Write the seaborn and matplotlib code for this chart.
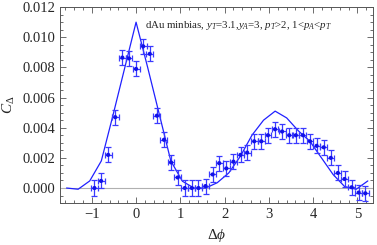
import matplotlib
matplotlib.use("Agg")
import matplotlib.pyplot as plt
import numpy as np
import seaborn as sns
import pandas as pd
from matplotlib.ticker import MultipleLocator

# data points
dphi = [-0.94, -0.79, -0.63, -0.47, -0.31, -0.16, 0.0, 0.16, 0.31, 0.47,
        0.63, 0.79, 0.94, 1.10, 1.26, 1.41, 1.57, 1.73, 1.88, 2.04,
        2.20, 2.36, 2.51, 2.67, 2.83, 2.98, 3.14, 3.30, 3.46, 3.61,
        3.77, 3.93, 4.08, 4.24, 4.40, 4.56, 4.71, 4.87, 5.03, 5.18]
c_delta = [0.0000, 0.00047, 0.0022, 0.0047, 0.00865, 0.0086, 0.0079, 0.0094, 0.0089, 0.0048,
           0.0032, 0.0017, 0.0007, 0.0000, 0.0000, 0.0000, 0.00013, 0.0009, 0.00165, 0.0013,
           0.00175, 0.0022, 0.00235, 0.0031, 0.0031, 0.0035, 0.0039, 0.00375, 0.0035, 0.0035,
           0.0035, 0.0031, 0.0028, 0.0027, 0.0020, 0.0010, 0.0006, 0.00005, -0.0003, -0.00035]
y_err = 0.0005
x_err = 0.078

# model curve
curve_x = [-1.571, -1.309, -1.047, -0.785, -0.524, -0.262, 0.0, 0.262, 0.524, 0.785,
           1.047, 1.309, 1.571, 1.833, 2.094, 2.356, 2.618, 2.880, 3.142, 3.403,
           3.665, 3.927, 4.189, 4.451, 4.712, 4.974, 5.236]
curve_y = [0.0000, -0.00008, 0.00047, 0.0018, 0.0048, 0.0079, 0.0110, 0.0080, 0.0049, 0.0018,
           0.00045, 0.0000, 0.0000, 0.00035, 0.0010, 0.0021, 0.0035, 0.0045, 0.0051, 0.00465,
           0.0038, 0.0031, 0.0020, 0.0009, 0.0001, -0.00008, 0.00047]

label_text = r"dAu minbias, $y_T$=3.1,$y_A$=3, $p_T$>2, 1<$p_A$<$p_T$"

sns.set_theme(style="ticks")
plt.rcParams["font.family"] = ["Liberation Serif", "DejaVu Serif"]
plt.rcParams["mathtext.fontset"] = "custom"
plt.rcParams["mathtext.rm"] = "Liberation Serif"
plt.rcParams["mathtext.it"] = "Liberation Serif:italic"

fig = plt.figure(figsize=(3.77, 2.45), dpi=100)
ax = fig.add_axes([0.159, 0.171, 0.830, 0.800])

blue = "#2020ff"
ax.axhline(0, color="#b0b0b0", linewidth=0.8, zorder=1)

df_curve = pd.DataFrame({"x": curve_x, "y": curve_y})
sns.lineplot(data=df_curve, x="x", y="y", ax=ax, color=blue, linewidth=0.9,
             sort=False, zorder=3)

ax.errorbar(dphi, c_delta, yerr=y_err, xerr=x_err, fmt="none", ecolor="#3a3aff",
            elinewidth=0.9, capsize=2, capthick=0.9, zorder=4)
df_pts = pd.DataFrame({"x": dphi, "y": c_delta})
sns.scatterplot(data=df_pts, x="x", y="y", ax=ax, color="#1010e8", s=9,
                edgecolor="none", zorder=5)

ax.set_xlim(-1.72, 5.35)
ax.set_ylim(-0.001, 0.012)
ax.set_xticks([-1, 0, 1, 2, 3, 4, 5])
ax.set_xticklabels(["\u22121", "0", "1", "2", "3", "4", "5"])
ax.set_yticks([0.0, 0.002, 0.004, 0.006, 0.008, 0.010, 0.012])
ax.set_yticklabels(["0.000", "0.002", "0.004", "0.006", "0.008", "0.010", "0.012"])
ax.xaxis.set_minor_locator(MultipleLocator(0.2))
ax.yaxis.set_minor_locator(MultipleLocator(0.0005))
ax.tick_params(which="both", direction="in", top=True, right=True,
               labelsize=10.5, color="#555555", width=0.6)
ax.tick_params(which="major", length=4)
ax.tick_params(which="minor", length=2)
for sp in ax.spines.values():
    sp.set_color("#555555")
    sp.set_linewidth(0.7)

ax.set_xlabel(r"$\Delta\phi$", fontsize=11, labelpad=4)
ax.set_ylabel(r"$C_\Delta$", fontsize=11, labelpad=4)

ax.text(0.272, 0.905, label_text, transform=ax.transAxes, fontsize=7.8,
        ha="left", va="center")

fig.savefig("out.png", dpi=100)
